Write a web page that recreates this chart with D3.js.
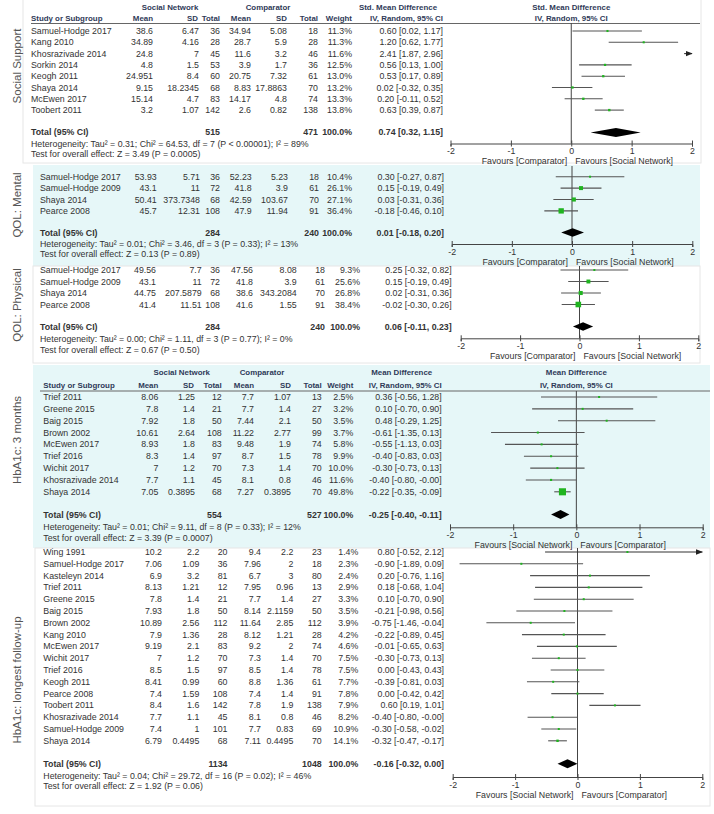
<!DOCTYPE html>
<html>
<head>
<meta charset="utf-8">
<script src="https://cdnjs.cloudflare.com/ajax/libs/d3/7.8.5/d3.min.js"></script>
<style>
  body { margin: 0; background: #fff; }
  svg text { font-family: "Liberation Sans", Arial, sans-serif; }
</style>
</head>
<body>
<div id="chart"></div>
<script>
// each row: [study, snMean, snSD, snTotal, cMean, cSD, cTotal, weight %, estimate, ciLow, ciHigh]
const socialSupportRows = [
  ["Samuel-Hodge 2017", 38.6, 6.47, 36, 34.94, 5.08, 18, 11.3, 0.60, 0.02, 1.17],
  ["Kang 2010", 34.89, 4.16, 28, 28.7, 5.9, 28, 11.3, 1.20, 0.62, 1.77],
  ["Khosrazivade 2014", 24.8, 7, 45, 11.6, 3.2, 46, 11.6, 2.41, 1.87, 2.96],
  ["Sorkin 2014", 4.8, 1.5, 53, 3.9, 1.7, 36, 12.5, 0.56, 0.13, 1.00],
  ["Keogh 2011", 24.951, 8.4, 60, 20.75, 7.32, 61, 13.0, 0.53, 0.17, 0.89],
  ["Shaya 2014", 9.15, 18.2345, 68, 8.83, 17.8863, 70, 13.2, 0.02, -0.32, 0.35],
  ["McEwen 2017", 15.14, 4.7, 83, 14.17, 4.8, 74, 13.3, 0.20, -0.11, 0.52],
  ["Toobert 2011", 3.2, 1.07, 142, 2.6, 0.82, 138, 13.8, 0.63, 0.39, 0.87]
];
const qolMentalRows = [
  ["Samuel-Hodge 2017", 53.93, 5.71, 36, 52.23, 5.23, 18, 10.4, 0.30, -0.27, 0.87],
  ["Samuel-Hodge 2009", 43.1, 11, 72, 41.8, 3.9, 61, 26.1, 0.15, -0.19, 0.49],
  ["Shaya 2014", 50.41, 373.7348, 68, 42.59, 103.67, 70, 27.1, 0.03, -0.31, 0.36],
  ["Pearce 2008", 45.7, 12.31, 108, 47.9, 11.94, 91, 36.4, -0.18, -0.46, 0.10]
];
const qolPhysicalRows = [
  ["Samuel-Hodge 2017", 49.56, 7.7, 36, 47.56, 8.08, 18, 9.3, 0.25, -0.32, 0.82],
  ["Samuel-Hodge 2009", 43.1, 11, 72, 41.8, 3.9, 61, 25.6, 0.15, -0.19, 0.49],
  ["Shaya 2014", 44.75, 207.5879, 68, 38.6, 343.2084, 70, 26.8, 0.02, -0.31, 0.36],
  ["Pearce 2008", 41.4, 11.51, 108, 41.6, 1.55, 91, 38.4, -0.02, -0.30, 0.26]
];
const hba1c3mRows = [
  ["Trief 2011", 8.06, 1.25, 12, 7.7, 1.07, 13, 2.5, 0.36, -0.56, 1.28],
  ["Greene 2015", 7.8, 1.4, 21, 7.7, 1.4, 27, 3.2, 0.10, -0.70, 0.90],
  ["Baig 2015", 7.92, 1.8, 50, 7.44, 2.1, 50, 3.5, 0.48, -0.29, 1.25],
  ["Brown 2002", 10.61, 2.64, 108, 11.22, 2.77, 99, 3.7, -0.61, -1.35, 0.13],
  ["McEwen 2017", 8.93, 1.8, 83, 9.48, 1.9, 74, 5.8, -0.55, -1.13, 0.03],
  ["Trief 2016", 8.3, 1.4, 97, 8.7, 1.5, 78, 9.9, -0.40, -0.83, 0.03],
  ["Wichit 2017", 7, 1.2, 70, 7.3, 1.4, 70, 10.0, -0.30, -0.73, 0.13],
  ["Khosrazivade 2014", 7.7, 1.1, 45, 8.1, 0.8, 46, 11.6, -0.40, -0.80, -0.001],
  ["Shaya 2014", 7.05, 0.3895, 68, 7.27, 0.3895, 70, 49.8, -0.22, -0.35, -0.09]
];
const hba1cLongRows = [
  ["Wing 1991", 10.2, 2.2, 20, 9.4, 2.2, 23, 1.4, 0.80, -0.52, 2.12],
  ["Samuel-Hodge 2017", 7.06, 1.09, 36, 7.96, 2, 18, 2.3, -0.90, -1.89, 0.09],
  ["Kasteleyn 2014", 6.9, 3.2, 81, 6.7, 3, 80, 2.4, 0.20, -0.76, 1.16],
  ["Trief 2011", 8.13, 1.21, 12, 7.95, 0.96, 13, 2.9, 0.18, -0.68, 1.04],
  ["Greene 2015", 7.8, 1.4, 21, 7.7, 1.4, 27, 3.3, 0.10, -0.70, 0.90],
  ["Baig 2015", 7.93, 1.8, 50, 8.14, 2.1159, 50, 3.5, -0.21, -0.98, 0.56],
  ["Brown 2002", 10.89, 2.56, 112, 11.64, 2.85, 112, 3.9, -0.75, -1.46, -0.04],
  ["Kang 2010", 7.9, 1.36, 28, 8.12, 1.21, 28, 4.2, -0.22, -0.89, 0.45],
  ["McEwen 2017", 9.19, 2.1, 83, 9.2, 2, 74, 4.6, -0.01, -0.65, 0.63],
  ["Wichit 2017", 7, 1.2, 70, 7.3, 1.4, 70, 7.5, -0.30, -0.73, 0.13],
  ["Trief 2016", 8.5, 1.5, 97, 8.5, 1.4, 78, 7.5, 0.00, -0.43, 0.43],
  ["Keogh 2011", 8.41, 0.99, 60, 8.8, 1.36, 61, 7.7, -0.39, -0.81, 0.03],
  ["Pearce 2008", 7.4, 1.59, 108, 7.4, 1.4, 91, 7.8, 0.00, -0.42, 0.42],
  ["Toobert 2011", 8.4, 1.6, 142, 7.8, 1.9, 138, 7.9, 0.60, 0.19, 1.01],
  ["Khosrazivade 2014", 7.7, 1.1, 45, 8.1, 0.8, 46, 8.2, -0.40, -0.80, -0.001],
  ["Samuel-Hodge 2009", 7.4, 1, 101, 7.7, 0.83, 69, 10.9, -0.30, -0.58, -0.02],
  ["Shaya 2014", 6.79, 0.4495, 68, 7.11, 0.4495, 70, 14.1, -0.32, -0.47, -0.17]
];

// totals: [snTotal, cTotal, estimate, ciLow, ciHigh]
const socialSupportTotal = [515, 471, 0.74, 0.32, 1.15];
const qolMentalTotal = [284, 240, 0.01, -0.18, 0.20];
const qolPhysicalTotal = [284, 240, 0.06, -0.11, 0.23];
const hba1c3mTotal = [554, 527, -0.25, -0.40, -0.11];
const hba1cLongTotal = [1134, 1048, -0.16, -0.32, 0.00];

const heterogeneity = [
  "Heterogeneity: Tau\u00b2 = 0.31; Chi\u00b2 = 64.53, df = 7 (P < 0.00001); I\u00b2 = 89%",
  "Heterogeneity: Tau\u00b2 = 0.01; Chi\u00b2 = 3.46, df = 3 (P = 0.33); I\u00b2 = 13%",
  "Heterogeneity: Tau\u00b2 = 0.00; Chi\u00b2 = 1.11, df = 3 (P = 0.77); I\u00b2 = 0%",
  "Heterogeneity: Tau\u00b2 = 0.01; Chi\u00b2 = 9.11, df = 8 (P = 0.33); I\u00b2 = 12%",
  "Heterogeneity: Tau\u00b2 = 0.04; Chi\u00b2 = 29.72, df = 16 (P = 0.02); I\u00b2 = 46%"
];
const overallEffect = [
  "Test for overall effect: Z = 3.49 (P = 0.0005)",
  "Test for overall effect: Z = 0.13 (P = 0.89)",
  "Test for overall effect: Z = 0.67 (P = 0.50)",
  "Test for overall effect: Z = 3.39 (P = 0.0007)",
  "Test for overall effect: Z = 1.92 (P = 0.06)"
];
const sectionLabels = ["Social Support", "QOL: Mental", "QOL: Physical", "HbA1c: 3 months", "HbA1c: longest follow-up"];
const axisTicks = [-2, -1, 0, 1, 2];

const W = 714, H = 814;
const textCol = "#333", headCol = "#2f3a58", lineCol = "#555", green = "#20b420";
const cyan = "#e6f7f8";

const svg = d3.select("#chart").append("svg").attr("width", W).attr("height", H);

svg.append("defs").append("marker")
  .attr("id", "arrow").attr("viewBox", "0 0 10 10").attr("refX", 9).attr("refY", 5)
  .attr("markerWidth", 7).attr("markerHeight", 7).attr("orient", "auto-start-reverse")
  .attr("markerUnits", "userSpaceOnUse")
  .append("path").attr("d", "M0,1 L10,5 L0,9 z").attr("fill", "#222");

// backgrounds go underneath everything else
const bgLayer = svg.append("g");
const fgLayer = svg.append("g");

const sizeScale = d3.scaleLinear().domain([0, 50]).range([0.6, 7.1]);
const fmt = v => v.toFixed(2);

function txt(g, x, y, s, anchor, opt) {
  opt = opt || {};
  return g.append("text").attr("x", x).attr("y", y).attr("dy", "0.35em")
    .attr("text-anchor", anchor || "start")
    .attr("font-size", opt.size || 8.8)
    .attr("font-weight", opt.bold ? "bold" : null)
    .attr("fill", opt.fill || textCol)
    .text(s);
}

function drawPanel(cfg, rows, total, het, test, label) {
  bgLayer.append("rect")
    .attr("x", cfg.box[0]).attr("y", cfg.box[1])
    .attr("width", cfg.box[2] - cfg.box[0]).attr("height", cfg.box[3] - cfg.box[1])
    .attr("fill", cfg.fill).attr("stroke", cfg.fill === "#fff" ? "#e6e6e6" : "none");

  const g = fgLayer.append("g");
  const c = cfg.cols;
  const x = d3.scaleLinear().domain([-2, 2]).range(cfg.axis);
  const y = d3.scaleLinear().domain([0, 1]).range([cfg.y0, cfg.y0 + cfg.step]);
  const n = rows.length;
  const totalY = y(n - 1) + cfg.totalGap;
  const hetY = totalY + cfg.hetGap;
  const testY = hetY + cfg.testGap;
  const axisY = cfg.axisY;

  // section label
  g.append("text")
    .attr("transform", `translate(${cfg.labelX},${cfg.labelY}) rotate(-90)`)
    .attr("text-anchor", "middle").attr("dy", "0.35em")
    .attr("font-size", 11.5).attr("fill", "#555").text(label);

  // header
  if (cfg.header) {
    const h = cfg.header;
    const hb = { bold: true, fill: headCol, size: 7.9 };
    txt(g, h.sn, h.y1, "Social Network", "middle", hb);
    txt(g, h.cmp, h.y1, "Comparator", "middle", hb);
    txt(g, h.est, h.y1, h.title, "middle", hb);
    txt(g, x(0), h.y1, h.title, "middle", hb);
    txt(g, c.study, h.y2, "Study or Subgroup", "start", hb);
    txt(g, c.mean, h.y2, "Mean", "end", hb);
    txt(g, c.sd - 1, h.y2, "SD", "end", hb);
    txt(g, c.tot, h.y2, "Total", "end", hb);
    txt(g, c.cmean, h.y2, "Mean", "end", hb);
    txt(g, c.csd, h.y2, "SD", "end", hb);
    txt(g, c.ctot, h.y2, "Total", "end", hb);
    txt(g, c.weight, h.y2, "Weight", "end", hb);
    txt(g, c.est, h.y2, "IV, Random, 95% CI", "end", hb);
    txt(g, x(0), h.y2, "IV, Random, 95% CI", "middle", hb);
    g.append("line").attr("x1", h.lineX[0]).attr("x2", h.lineX[1])
      .attr("y1", h.line).attr("y2", h.line).attr("stroke", "#666").attr("stroke-width", 1);
  }

  // zero line
  g.append("line").attr("x1", x(0)).attr("x2", x(0))
    .attr("y1", cfg.zeroTop).attr("y2", axisY).attr("stroke", "#444").attr("stroke-width", 1);

  // study rows
  rows.forEach((r, i) => {
    const yy = y(i);
    txt(g, c.study, yy, r[0], "start");
    txt(g, c.mean, yy, String(r[1]), "end");
    txt(g, c.sd, yy, String(r[2]), "end");
    txt(g, c.tot, yy, String(r[3]), "end");
    txt(g, c.cmean, yy, String(r[4]), "end");
    txt(g, c.csd, yy, String(r[5]), "end");
    txt(g, c.ctot, yy, String(r[6]), "end");
    txt(g, c.weight, yy, r[7].toFixed(1) + "%", "end");
    txt(g, c.est, yy, `${fmt(r[8])} [${fmt(r[9])}, ${fmt(r[10])}]`, "end");

    const lo = Math.max(r[9], -2), hi = Math.min(r[10], 2);
    const ln = g.append("line").attr("x1", x(lo)).attr("x2", x(hi))
      .attr("y1", yy).attr("y2", yy).attr("stroke", lineCol).attr("stroke-width", 1.1);
    if (r[10] > 2) ln.attr("stroke", "#333").attr("marker-end", "url(#arrow)");
    if (r[9] < -2) ln.attr("marker-start", "url(#arrow)");
    if (r[8] >= -2 && r[8] <= 2) {
      const s = Math.max(2, sizeScale(r[7]));
      g.append("rect").attr("x", x(r[8]) - s / 2).attr("y", yy - s / 2)
        .attr("width", s).attr("height", s).attr("fill", green);
    }
  });

  // totals
  const tb = { bold: true };
  txt(g, c.study, totalY, "Total (95% CI)", "start", tb);
  txt(g, c.tot, totalY, String(total[0]), "end", tb);
  txt(g, c.ctot, totalY, String(total[1]), "end", tb);
  txt(g, c.weight, totalY, "100.0%", "end", tb);
  txt(g, c.est, totalY, `${fmt(total[2])} [${fmt(total[3])}, ${fmt(total[4])}]`, "end", tb);
  const dh = cfg.diamond;
  g.append("path")
    .attr("d", `M${x(total[3])},${totalY} L${x(total[2])},${totalY - dh} L${x(total[4])},${totalY} L${x(total[2])},${totalY + dh} Z`)
    .attr("fill", "#000");
  txt(g, c.study, hetY, het, "start");
  txt(g, c.study, testY, test, "start");

  // axis
  const ax = g.append("g").attr("transform", `translate(0,${axisY})`)
    .call(d3.axisBottom(x).tickValues(axisTicks).tickFormat(d => String(d))
      .tickSizeOuter(0).tickSize(3).tickPadding(1.5));
  ax.select(".domain").attr("stroke", "#444");
  ax.selectAll(".tick line").attr("y1", -3).attr("y2", 3).attr("stroke", "#444");
  ax.selectAll(".tick text").attr("font-size", 8.8).attr("fill", textCol)
    .attr("font-family", '"Liberation Sans", Arial, sans-serif');
  txt(g, x(0) - 4, axisY + 17.5, cfg.favours[0], "end");
  txt(g, x(0) + 4, axisY + 17.5, cfg.favours[1], "start");
}

const favSN = ["Favours [Comparator]", "Favours [Social Network]"];
const favHb = ["Favours [Social Network]", "Favours [Comparator]"];

drawPanel({
  box: [23, -1, 701, 163], fill: "#fff",
  y0: 31, step: 11.3, totalGap: 22.3, hetGap: 11.5, testGap: 10,
  cols: { study: 31, mean: 153, sd: 199, tot: 220, cmean: 251, csd: 287, ctot: 318, weight: 352, est: 443 },
  axis: [450.5, 692], axisY: 143.5, zeroTop: 23, diamond: 4.5,
  header: { y1: 7, y2: 18, line: 23.5, lineX: [31, 700], sn: 170, cmp: 268, est: 398, title: "Std. Mean Difference" },
  favours: favSN, labelX: 17, labelY: 66
}, socialSupportRows, socialSupportTotal, heterogeneity[0], overallEffect[0], sectionLabels[0]);

drawPanel({
  box: [33, 165, 700, 266], fill: cyan,
  y0: 176.7, step: 11.4, totalGap: 21.6, hetGap: 11, testGap: 10.5,
  cols: { study: 40, mean: 156.7, sd: 200, tot: 220, cmean: 251.7, csd: 288, ctot: 319, weight: 352, est: 444 },
  axis: [451.7, 692.3], axisY: 244, zeroTop: 166, diamond: 4.3,
  favours: favSN, labelX: 17, labelY: 205
}, qolMentalRows, qolMentalTotal, heterogeneity[1], overallEffect[1], sectionLabels[1]);

drawPanel({
  box: [33, 266, 700, 363], fill: "#fff",
  y0: 270, step: 11.5, totalGap: 22, hetGap: 12, testGap: 11,
  cols: { study: 40, mean: 156, sd: 201.7, tot: 220, cmean: 253, csd: 296.7, ctot: 325, weight: 360, est: 451.7 },
  axis: [460.7, 698.3], axisY: 338.3, zeroTop: 266, diamond: 4.3,
  favours: favSN, labelX: 17, labelY: 305
}, qolPhysicalRows, qolPhysicalTotal, heterogeneity[2], overallEffect[2], sectionLabels[2]);

drawPanel({
  box: [33, 365, 710, 548], fill: cyan,
  y0: 397, step: 11.85, totalGap: 22.7, hetGap: 12.5, testGap: 10.5,
  cols: { study: 43.3, mean: 158.3, sd: 195, tot: 221.7, cmean: 254, csd: 291, ctot: 321.7, weight: 353.3, est: 441.7 },
  axis: [450, 702.7], axisY: 527.3, zeroTop: 391, diamond: 4.5,
  header: { y1: 372, y2: 385, line: 391, lineX: [40, 710], sn: 181.7, cmp: 262, est: 401.7, title: "Mean Difference" },
  favours: favHb, labelX: 17, labelY: 440
}, hba1c3mRows, hba1c3mTotal, heterogeneity[3], overallEffect[3], sectionLabels[3]);

drawPanel({
  box: [35, 548, 710, 806], fill: "#fff",
  y0: 552, step: 11.8, totalGap: 23, hetGap: 12, testGap: 10.5,
  cols: { study: 43.3, mean: 162, sd: 199.3, tot: 227.5, cmean: 261, csd: 293.3, ctot: 321.7, weight: 358.3, est: 444 },
  axis: [452.7, 702.3], axisY: 777, zeroTop: 548, diamond: 4.5,
  favours: favHb, labelX: 17, labelY: 680
}, hba1cLongRows, hba1cLongTotal, heterogeneity[4], overallEffect[4], sectionLabels[4]);
</script>
</body>
</html>
